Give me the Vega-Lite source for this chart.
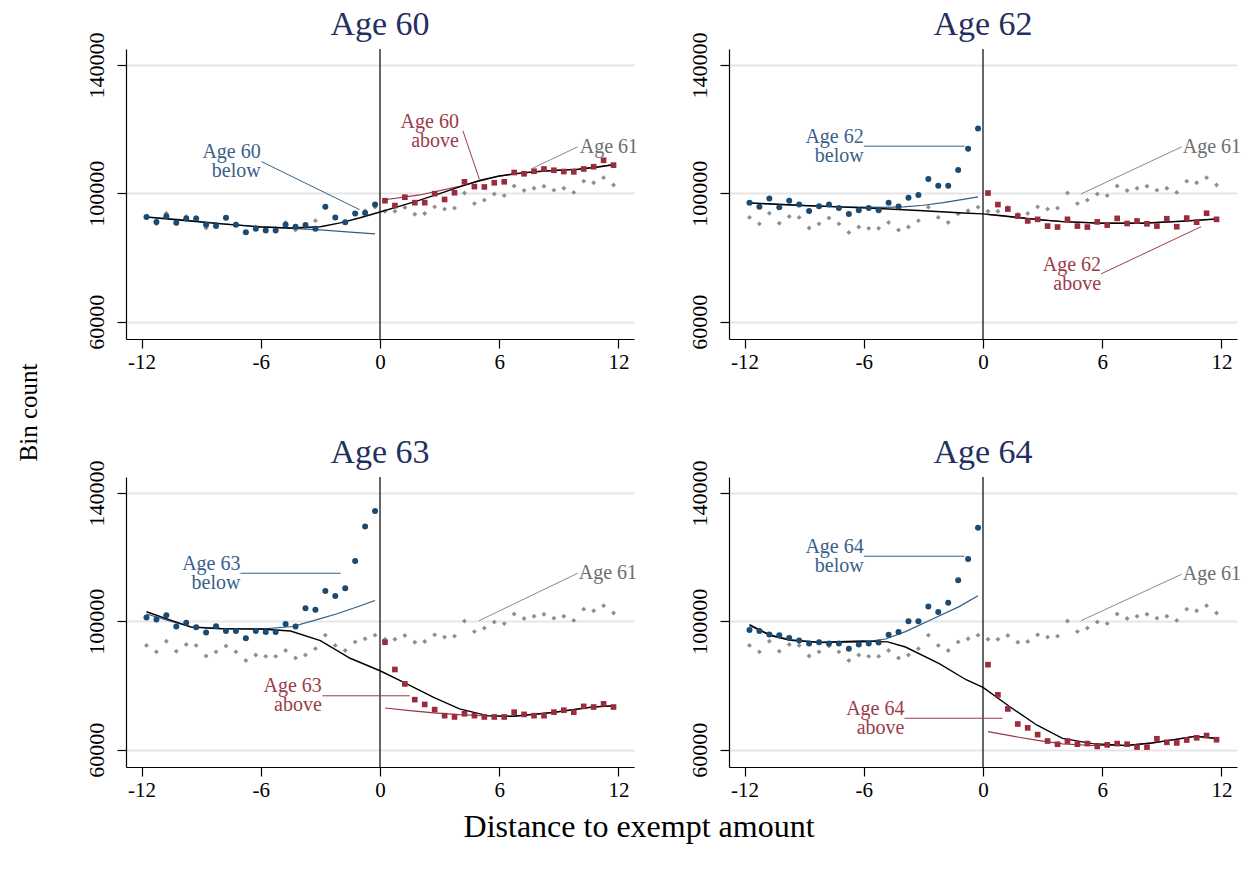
{
  "$schema": "https://vega.github.io/schema/vega-lite/v6.json",
  "padding": {"left": 17, "top": 8, "right": 5, "bottom": 5},
  "background": "white",
  "datasets": {
    "age61": [
      {"x": -11.75, "y": 92500}, {"x": -11.25, "y": 90500}, {"x": -10.75, "y": 93800}, {"x": -10.25, "y": 90700},
      {"x": -9.75, "y": 92800}, {"x": -9.25, "y": 92500}, {"x": -8.75, "y": 89200}, {"x": -8.25, "y": 90500},
      {"x": -7.75, "y": 92300}, {"x": -7.25, "y": 90500}, {"x": -6.75, "y": 87800}, {"x": -6.25, "y": 89500},
      {"x": -5.75, "y": 89100}, {"x": -5.25, "y": 89100}, {"x": -4.75, "y": 90900}, {"x": -4.25, "y": 88600},
      {"x": -3.75, "y": 89500}, {"x": -3.25, "y": 91500}, {"x": -2.75, "y": 95700}, {"x": -2.25, "y": 92500},
      {"x": -1.75, "y": 90900}, {"x": -1.25, "y": 93600}, {"x": -0.75, "y": 94600}, {"x": -0.25, "y": 95700},
      {"x": 0.25, "y": 94400}, {"x": 0.75, "y": 94400}, {"x": 1.25, "y": 95600}, {"x": 1.75, "y": 93500},
      {"x": 2.25, "y": 93700}, {"x": 2.75, "y": 95800}, {"x": 3.25, "y": 95100}, {"x": 3.75, "y": 95400},
      {"x": 4.25, "y": 100100}, {"x": 4.75, "y": 96800}, {"x": 5.25, "y": 97900}, {"x": 5.75, "y": 99800},
      {"x": 6.25, "y": 99300}, {"x": 6.75, "y": 102300}, {"x": 7.25, "y": 100900}, {"x": 7.75, "y": 101600},
      {"x": 8.25, "y": 102200}, {"x": 8.75, "y": 101000}, {"x": 9.25, "y": 101600}, {"x": 9.75, "y": 100300},
      {"x": 10.25, "y": 103800}, {"x": 10.75, "y": 103300}, {"x": 11.25, "y": 104900}, {"x": 11.75, "y": 102600}
    ],
    "zero": [{"x": 0, "y": 54600, "y2": 145000}],
    "pts": [
      {"p": 60, "s": "below", "x": -11.75, "y": 92600}, {"p": 60, "s": "below", "x": -11.25, "y": 91100}, {"p": 60, "s": "below", "x": -10.75, "y": 92900}, {"p": 60, "s": "below", "x": -10.25, "y": 90800},
      {"p": 60, "s": "below", "x": -9.75, "y": 92200}, {"p": 60, "s": "below", "x": -9.25, "y": 92200}, {"p": 60, "s": "below", "x": -8.75, "y": 90200}, {"p": 60, "s": "below", "x": -8.25, "y": 89800},
      {"p": 60, "s": "below", "x": -7.75, "y": 92400}, {"p": 60, "s": "below", "x": -7.25, "y": 90200}, {"p": 60, "s": "below", "x": -6.75, "y": 87900}, {"p": 60, "s": "below", "x": -6.25, "y": 89000},
      {"p": 60, "s": "below", "x": -5.75, "y": 88400}, {"p": 60, "s": "below", "x": -5.25, "y": 88400}, {"p": 60, "s": "below", "x": -4.75, "y": 90200}, {"p": 60, "s": "below", "x": -4.25, "y": 89600},
      {"p": 60, "s": "below", "x": -3.75, "y": 90100}, {"p": 60, "s": "below", "x": -3.25, "y": 89000}, {"p": 60, "s": "below", "x": -2.75, "y": 95800}, {"p": 60, "s": "below", "x": -2.25, "y": 92500},
      {"p": 60, "s": "below", "x": -1.75, "y": 91000}, {"p": 60, "s": "below", "x": -1.25, "y": 93700}, {"p": 60, "s": "below", "x": -0.75, "y": 93900}, {"p": 60, "s": "below", "x": -0.25, "y": 96500},
      {"p": 60, "s": "above", "x": 0.25, "y": 97700}, {"p": 60, "s": "above", "x": 0.75, "y": 96200}, {"p": 60, "s": "above", "x": 1.25, "y": 98800}, {"p": 60, "s": "above", "x": 1.75, "y": 97100},
      {"p": 60, "s": "above", "x": 2.25, "y": 97100}, {"p": 60, "s": "above", "x": 2.75, "y": 99900}, {"p": 60, "s": "above", "x": 3.25, "y": 98100}, {"p": 60, "s": "above", "x": 3.75, "y": 100200},
      {"p": 60, "s": "above", "x": 4.25, "y": 103600}, {"p": 60, "s": "above", "x": 4.75, "y": 102100}, {"p": 60, "s": "above", "x": 5.25, "y": 102000}, {"p": 60, "s": "above", "x": 5.75, "y": 103300},
      {"p": 60, "s": "above", "x": 6.25, "y": 103600}, {"p": 60, "s": "above", "x": 6.75, "y": 106500}, {"p": 60, "s": "above", "x": 7.25, "y": 106100}, {"p": 60, "s": "above", "x": 7.75, "y": 106900},
      {"p": 60, "s": "above", "x": 8.25, "y": 107600}, {"p": 60, "s": "above", "x": 8.75, "y": 107200}, {"p": 60, "s": "above", "x": 9.25, "y": 106800}, {"p": 60, "s": "above", "x": 9.75, "y": 106700},
      {"p": 60, "s": "above", "x": 10.25, "y": 107600}, {"p": 60, "s": "above", "x": 10.75, "y": 108300}, {"p": 60, "s": "above", "x": 11.25, "y": 110300}, {"p": 60, "s": "above", "x": 11.75, "y": 108800},

      {"p": 62, "s": "below", "x": -11.75, "y": 97100}, {"p": 62, "s": "below", "x": -11.25, "y": 95800}, {"p": 62, "s": "below", "x": -10.75, "y": 98400}, {"p": 62, "s": "below", "x": -10.25, "y": 95700},
      {"p": 62, "s": "below", "x": -9.75, "y": 97700}, {"p": 62, "s": "below", "x": -9.25, "y": 96500}, {"p": 62, "s": "below", "x": -8.75, "y": 94500}, {"p": 62, "s": "below", "x": -8.25, "y": 96000},
      {"p": 62, "s": "below", "x": -7.75, "y": 96500}, {"p": 62, "s": "below", "x": -7.25, "y": 95400}, {"p": 62, "s": "below", "x": -6.75, "y": 93600}, {"p": 62, "s": "below", "x": -6.25, "y": 94700},
      {"p": 62, "s": "below", "x": -5.75, "y": 95400}, {"p": 62, "s": "below", "x": -5.25, "y": 94700}, {"p": 62, "s": "below", "x": -4.75, "y": 97100}, {"p": 62, "s": "below", "x": -4.25, "y": 95900},
      {"p": 62, "s": "below", "x": -3.75, "y": 98600}, {"p": 62, "s": "below", "x": -3.25, "y": 99500}, {"p": 62, "s": "below", "x": -2.75, "y": 104500}, {"p": 62, "s": "below", "x": -2.25, "y": 102400},
      {"p": 62, "s": "below", "x": -1.75, "y": 102400}, {"p": 62, "s": "below", "x": -1.25, "y": 107300}, {"p": 62, "s": "below", "x": -0.75, "y": 113900}, {"p": 62, "s": "below", "x": -0.25, "y": 120200},
      {"p": 62, "s": "above", "x": 0.25, "y": 100100}, {"p": 62, "s": "above", "x": 0.75, "y": 96500}, {"p": 62, "s": "above", "x": 1.25, "y": 95100}, {"p": 62, "s": "above", "x": 1.75, "y": 92900},
      {"p": 62, "s": "above", "x": 2.25, "y": 91400}, {"p": 62, "s": "above", "x": 2.75, "y": 91900}, {"p": 62, "s": "above", "x": 3.25, "y": 89800}, {"p": 62, "s": "above", "x": 3.75, "y": 89500},
      {"p": 62, "s": "above", "x": 4.25, "y": 91900}, {"p": 62, "s": "above", "x": 4.75, "y": 89800}, {"p": 62, "s": "above", "x": 5.25, "y": 89500}, {"p": 62, "s": "above", "x": 5.75, "y": 91100},
      {"p": 62, "s": "above", "x": 6.25, "y": 90100}, {"p": 62, "s": "above", "x": 6.75, "y": 92200}, {"p": 62, "s": "above", "x": 7.25, "y": 90600}, {"p": 62, "s": "above", "x": 7.75, "y": 91400},
      {"p": 62, "s": "above", "x": 8.25, "y": 90500}, {"p": 62, "s": "above", "x": 8.75, "y": 89800}, {"p": 62, "s": "above", "x": 9.25, "y": 92100}, {"p": 62, "s": "above", "x": 9.75, "y": 89600},
      {"p": 62, "s": "above", "x": 10.25, "y": 92300}, {"p": 62, "s": "above", "x": 10.75, "y": 91000}, {"p": 62, "s": "above", "x": 11.25, "y": 93800}, {"p": 62, "s": "above", "x": 11.75, "y": 91900},

      {"p": 63, "s": "below", "x": -11.75, "y": 101200}, {"p": 63, "s": "below", "x": -11.25, "y": 100600}, {"p": 63, "s": "below", "x": -10.75, "y": 101900}, {"p": 63, "s": "below", "x": -10.25, "y": 98400},
      {"p": 63, "s": "below", "x": -9.75, "y": 99600}, {"p": 63, "s": "below", "x": -9.25, "y": 98200}, {"p": 63, "s": "below", "x": -8.75, "y": 96500}, {"p": 63, "s": "below", "x": -8.25, "y": 98500},
      {"p": 63, "s": "below", "x": -7.75, "y": 97000}, {"p": 63, "s": "below", "x": -7.25, "y": 97000}, {"p": 63, "s": "below", "x": -6.75, "y": 94700}, {"p": 63, "s": "below", "x": -6.25, "y": 97000},
      {"p": 63, "s": "below", "x": -5.75, "y": 96700}, {"p": 63, "s": "below", "x": -5.25, "y": 96700}, {"p": 63, "s": "below", "x": -4.75, "y": 99200}, {"p": 63, "s": "below", "x": -4.25, "y": 98400},
      {"p": 63, "s": "below", "x": -3.75, "y": 104100}, {"p": 63, "s": "below", "x": -3.25, "y": 103600}, {"p": 63, "s": "below", "x": -2.75, "y": 109500}, {"p": 63, "s": "below", "x": -2.25, "y": 107900},
      {"p": 63, "s": "below", "x": -1.75, "y": 110300}, {"p": 63, "s": "below", "x": -1.25, "y": 118800}, {"p": 63, "s": "below", "x": -0.75, "y": 129600}, {"p": 63, "s": "below", "x": -0.25, "y": 134400},
      {"p": 63, "s": "above", "x": 0.25, "y": 93500}, {"p": 63, "s": "above", "x": 0.75, "y": 85000}, {"p": 63, "s": "above", "x": 1.25, "y": 80500}, {"p": 63, "s": "above", "x": 1.75, "y": 75600},
      {"p": 63, "s": "above", "x": 2.25, "y": 74100}, {"p": 63, "s": "above", "x": 2.75, "y": 72500}, {"p": 63, "s": "above", "x": 3.25, "y": 70600}, {"p": 63, "s": "above", "x": 3.75, "y": 70200},
      {"p": 63, "s": "above", "x": 4.25, "y": 71200}, {"p": 63, "s": "above", "x": 4.75, "y": 70600}, {"p": 63, "s": "above", "x": 5.25, "y": 70200}, {"p": 63, "s": "above", "x": 5.75, "y": 70200},
      {"p": 63, "s": "above", "x": 6.25, "y": 70200}, {"p": 63, "s": "above", "x": 6.75, "y": 71700}, {"p": 63, "s": "above", "x": 7.25, "y": 71000}, {"p": 63, "s": "above", "x": 7.75, "y": 70600},
      {"p": 63, "s": "above", "x": 8.25, "y": 70600}, {"p": 63, "s": "above", "x": 8.75, "y": 71700}, {"p": 63, "s": "above", "x": 9.25, "y": 72300}, {"p": 63, "s": "above", "x": 9.75, "y": 71700},
      {"p": 63, "s": "above", "x": 10.25, "y": 73500}, {"p": 63, "s": "above", "x": 10.75, "y": 73300}, {"p": 63, "s": "above", "x": 11.25, "y": 74300}, {"p": 63, "s": "above", "x": 11.75, "y": 73300},

      {"p": 64, "s": "below", "x": -11.75, "y": 97300}, {"p": 64, "s": "below", "x": -11.25, "y": 97000}, {"p": 64, "s": "below", "x": -10.75, "y": 95900}, {"p": 64, "s": "below", "x": -10.25, "y": 95700},
      {"p": 64, "s": "below", "x": -9.75, "y": 94800}, {"p": 64, "s": "below", "x": -9.25, "y": 94000}, {"p": 64, "s": "below", "x": -8.75, "y": 93100}, {"p": 64, "s": "below", "x": -8.25, "y": 93500},
      {"p": 64, "s": "below", "x": -7.75, "y": 93100}, {"p": 64, "s": "below", "x": -7.25, "y": 93100}, {"p": 64, "s": "below", "x": -6.75, "y": 91500}, {"p": 64, "s": "below", "x": -6.25, "y": 92800},
      {"p": 64, "s": "below", "x": -5.75, "y": 93100}, {"p": 64, "s": "below", "x": -5.25, "y": 93400}, {"p": 64, "s": "below", "x": -4.75, "y": 95800}, {"p": 64, "s": "below", "x": -4.25, "y": 96700},
      {"p": 64, "s": "below", "x": -3.75, "y": 100000}, {"p": 64, "s": "below", "x": -3.25, "y": 100000}, {"p": 64, "s": "below", "x": -2.75, "y": 104600}, {"p": 64, "s": "below", "x": -2.25, "y": 102900},
      {"p": 64, "s": "below", "x": -1.75, "y": 105800}, {"p": 64, "s": "below", "x": -1.25, "y": 112800}, {"p": 64, "s": "below", "x": -0.75, "y": 119400}, {"p": 64, "s": "below", "x": -0.25, "y": 129200},
      {"p": 64, "s": "above", "x": 0.25, "y": 86500}, {"p": 64, "s": "above", "x": 0.75, "y": 77100}, {"p": 64, "s": "above", "x": 1.25, "y": 72700}, {"p": 64, "s": "above", "x": 1.75, "y": 68000},
      {"p": 64, "s": "above", "x": 2.25, "y": 66800}, {"p": 64, "s": "above", "x": 2.75, "y": 64700}, {"p": 64, "s": "above", "x": 3.25, "y": 62700}, {"p": 64, "s": "above", "x": 3.75, "y": 61700},
      {"p": 64, "s": "above", "x": 4.25, "y": 62700}, {"p": 64, "s": "above", "x": 4.75, "y": 61700}, {"p": 64, "s": "above", "x": 5.25, "y": 61900}, {"p": 64, "s": "above", "x": 5.75, "y": 61000},
      {"p": 64, "s": "above", "x": 6.25, "y": 61500}, {"p": 64, "s": "above", "x": 6.75, "y": 61900}, {"p": 64, "s": "above", "x": 7.25, "y": 61700}, {"p": 64, "s": "above", "x": 7.75, "y": 60800},
      {"p": 64, "s": "above", "x": 8.25, "y": 60800}, {"p": 64, "s": "above", "x": 8.75, "y": 63400}, {"p": 64, "s": "above", "x": 9.25, "y": 62300}, {"p": 64, "s": "above", "x": 9.75, "y": 62100},
      {"p": 64, "s": "above", "x": 10.25, "y": 63000}, {"p": 64, "s": "above", "x": 10.75, "y": 63700}, {"p": 64, "s": "above", "x": 11.25, "y": 64400}, {"p": 64, "s": "above", "x": 11.75, "y": 63100}
    ],
    "fits": [
      {"p": 60, "s": "fit", "x": -11.75, "y": 92600}, {"p": 60, "s": "fit", "x": -10, "y": 91600}, {"p": 60, "s": "fit", "x": -8, "y": 90500}, {"p": 60, "s": "fit", "x": -6, "y": 89500},
      {"p": 60, "s": "fit", "x": -4.5, "y": 89200}, {"p": 60, "s": "fit", "x": -3, "y": 89600}, {"p": 60, "s": "fit", "x": -2, "y": 90800}, {"p": 60, "s": "fit", "x": -1, "y": 92400},
      {"p": 60, "s": "fit", "x": 0, "y": 94200}, {"p": 60, "s": "fit", "x": 1, "y": 96000}, {"p": 60, "s": "fit", "x": 2, "y": 97900}, {"p": 60, "s": "fit", "x": 3, "y": 99900},
      {"p": 60, "s": "fit", "x": 4, "y": 102000}, {"p": 60, "s": "fit", "x": 5, "y": 104000}, {"p": 60, "s": "fit", "x": 6, "y": 105400}, {"p": 60, "s": "fit", "x": 7, "y": 106300},
      {"p": 60, "s": "fit", "x": 8, "y": 106800}, {"p": 60, "s": "fit", "x": 9, "y": 107200}, {"p": 60, "s": "fit", "x": 10, "y": 107500}, {"p": 60, "s": "fit", "x": 11, "y": 108200}, {"p": 60, "s": "fit", "x": 11.75, "y": 108900},
      {"p": 60, "s": "below", "x": -11.75, "y": 92700}, {"p": 60, "s": "below", "x": -10, "y": 91800}, {"p": 60, "s": "below", "x": -8, "y": 90600}, {"p": 60, "s": "below", "x": -6, "y": 89600},
      {"p": 60, "s": "below", "x": -4.5, "y": 89100}, {"p": 60, "s": "below", "x": -3, "y": 88600}, {"p": 60, "s": "below", "x": -1.5, "y": 87900}, {"p": 60, "s": "below", "x": -0.25, "y": 87400},
      {"p": 60, "s": "above", "x": 0.25, "y": 98000}, {"p": 60, "s": "above", "x": 2, "y": 99500}, {"p": 60, "s": "above", "x": 4, "y": 102200}, {"p": 60, "s": "above", "x": 6, "y": 105400},
      {"p": 60, "s": "above", "x": 8, "y": 106900}, {"p": 60, "s": "above", "x": 10, "y": 107600}, {"p": 60, "s": "above", "x": 11.75, "y": 109000},

      {"p": 62, "s": "fit", "x": -11.75, "y": 97000}, {"p": 62, "s": "fit", "x": -9, "y": 96200}, {"p": 62, "s": "fit", "x": -7, "y": 95700}, {"p": 62, "s": "fit", "x": -5, "y": 95200},
      {"p": 62, "s": "fit", "x": -3, "y": 94600}, {"p": 62, "s": "fit", "x": -1, "y": 93900}, {"p": 62, "s": "fit", "x": 0, "y": 93600}, {"p": 62, "s": "fit", "x": 1, "y": 93000},
      {"p": 62, "s": "fit", "x": 2, "y": 92300}, {"p": 62, "s": "fit", "x": 3, "y": 91700}, {"p": 62, "s": "fit", "x": 4, "y": 91200}, {"p": 62, "s": "fit", "x": 6, "y": 90700},
      {"p": 62, "s": "fit", "x": 8, "y": 90700}, {"p": 62, "s": "fit", "x": 10, "y": 91300}, {"p": 62, "s": "fit", "x": 11.75, "y": 92000},
      {"p": 62, "s": "below", "x": -11.75, "y": 97000}, {"p": 62, "s": "below", "x": -9, "y": 96200}, {"p": 62, "s": "below", "x": -7, "y": 95800}, {"p": 62, "s": "below", "x": -5, "y": 95600},
      {"p": 62, "s": "below", "x": -4, "y": 95800}, {"p": 62, "s": "below", "x": -3, "y": 96300}, {"p": 62, "s": "below", "x": -2, "y": 97100}, {"p": 62, "s": "below", "x": -1, "y": 98100}, {"p": 62, "s": "below", "x": -0.25, "y": 98900},
      {"p": 62, "s": "above", "x": 0.25, "y": 93400}, {"p": 62, "s": "above", "x": 1, "y": 92900}, {"p": 62, "s": "above", "x": 2, "y": 92300}, {"p": 62, "s": "above", "x": 3, "y": 91700},
      {"p": 62, "s": "above", "x": 4, "y": 91200}, {"p": 62, "s": "above", "x": 6, "y": 90700}, {"p": 62, "s": "above", "x": 8, "y": 90700}, {"p": 62, "s": "above", "x": 10, "y": 91300}, {"p": 62, "s": "above", "x": 11.75, "y": 92000},

      {"p": 63, "s": "fit", "x": -11.75, "y": 103000}, {"p": 63, "s": "fit", "x": -10.5, "y": 100300}, {"p": 63, "s": "fit", "x": -9.5, "y": 98200}, {"p": 63, "s": "fit", "x": -8, "y": 97700},
      {"p": 63, "s": "fit", "x": -6, "y": 97600}, {"p": 63, "s": "fit", "x": -4.5, "y": 97000}, {"p": 63, "s": "fit", "x": -3, "y": 94000}, {"p": 63, "s": "fit", "x": -1.5, "y": 88500},
      {"p": 63, "s": "fit", "x": 0, "y": 84600}, {"p": 63, "s": "fit", "x": 1.2, "y": 81000}, {"p": 63, "s": "fit", "x": 2.7, "y": 76300}, {"p": 63, "s": "fit", "x": 4, "y": 72700},
      {"p": 63, "s": "fit", "x": 5.4, "y": 70600}, {"p": 63, "s": "fit", "x": 6.7, "y": 70400}, {"p": 63, "s": "fit", "x": 8.7, "y": 71600}, {"p": 63, "s": "fit", "x": 10.7, "y": 73300}, {"p": 63, "s": "fit", "x": 11.75, "y": 73700},
      {"p": 63, "s": "below", "x": -11.75, "y": 102300}, {"p": 63, "s": "below", "x": -10.5, "y": 100000}, {"p": 63, "s": "below", "x": -9.5, "y": 98300}, {"p": 63, "s": "below", "x": -8, "y": 97800},
      {"p": 63, "s": "below", "x": -6, "y": 97600}, {"p": 63, "s": "below", "x": -4.4, "y": 98400}, {"p": 63, "s": "below", "x": -3.3, "y": 100300}, {"p": 63, "s": "below", "x": -2.2, "y": 102300},
      {"p": 63, "s": "below", "x": -1.2, "y": 104400}, {"p": 63, "s": "below", "x": -0.25, "y": 106500},
      {"p": 63, "s": "above", "x": 0.25, "y": 73000}, {"p": 63, "s": "above", "x": 1.5, "y": 72200}, {"p": 63, "s": "above", "x": 2.7, "y": 71500}, {"p": 63, "s": "above", "x": 4, "y": 70900},
      {"p": 63, "s": "above", "x": 5.4, "y": 70500}, {"p": 63, "s": "above", "x": 6.7, "y": 70400}, {"p": 63, "s": "above", "x": 8.7, "y": 71600}, {"p": 63, "s": "above", "x": 10.7, "y": 73300}, {"p": 63, "s": "above", "x": 11.75, "y": 73700},

      {"p": 64, "s": "fit", "x": -11.75, "y": 99000}, {"p": 64, "s": "fit", "x": -10.7, "y": 95600}, {"p": 64, "s": "fit", "x": -9.7, "y": 94100}, {"p": 64, "s": "fit", "x": -8.2, "y": 93500},
      {"p": 64, "s": "fit", "x": -6, "y": 93900}, {"p": 64, "s": "fit", "x": -4.8, "y": 93600}, {"p": 64, "s": "fit", "x": -3.9, "y": 92000}, {"p": 64, "s": "fit", "x": -2.2, "y": 86800},
      {"p": 64, "s": "fit", "x": -0.85, "y": 81800}, {"p": 64, "s": "fit", "x": 0, "y": 79400}, {"p": 64, "s": "fit", "x": 1.3, "y": 73600}, {"p": 64, "s": "fit", "x": 2.7, "y": 67700},
      {"p": 64, "s": "fit", "x": 4, "y": 63500}, {"p": 64, "s": "fit", "x": 5.5, "y": 61900}, {"p": 64, "s": "fit", "x": 7.2, "y": 61300}, {"p": 64, "s": "fit", "x": 8.5, "y": 62100},
      {"p": 64, "s": "fit", "x": 9.7, "y": 63200}, {"p": 64, "s": "fit", "x": 10.7, "y": 64200}, {"p": 64, "s": "fit", "x": 11.75, "y": 63500},
      {"p": 64, "s": "below", "x": -11.75, "y": 98600}, {"p": 64, "s": "below", "x": -10.7, "y": 95800}, {"p": 64, "s": "below", "x": -9.7, "y": 94300}, {"p": 64, "s": "below", "x": -8.2, "y": 93400},
      {"p": 64, "s": "below", "x": -6, "y": 93500}, {"p": 64, "s": "below", "x": -4.9, "y": 94500}, {"p": 64, "s": "below", "x": -3.9, "y": 96800}, {"p": 64, "s": "below", "x": -2.35, "y": 101300},
      {"p": 64, "s": "below", "x": -1.2, "y": 104600}, {"p": 64, "s": "below", "x": -0.25, "y": 108000},
      {"p": 64, "s": "above", "x": 0.25, "y": 65600}, {"p": 64, "s": "above", "x": 1.5, "y": 64200}, {"p": 64, "s": "above", "x": 2.75, "y": 62900}, {"p": 64, "s": "above", "x": 4, "y": 61800},
      {"p": 64, "s": "above", "x": 5.5, "y": 61300}, {"p": 64, "s": "above", "x": 7.2, "y": 61300}, {"p": 64, "s": "above", "x": 8.5, "y": 62100}, {"p": 64, "s": "above", "x": 9.7, "y": 63200},
      {"p": 64, "s": "above", "x": 10.7, "y": 64200}, {"p": 64, "s": "above", "x": 11.75, "y": 63500}
    ],
    "ann": [
      {"p": 60, "s": "below", "x": -6.0, "y": 109800, "t": "Age 60\nbelow"},
      {"p": 60, "s": "above", "x": 3.97, "y": 119400, "t": "Age 60\nabove"},
      {"p": 60, "s": "age61", "x": 10.0, "y": 114500, "t": "Age 61"},
      {"p": 62, "s": "below", "x": -6.0, "y": 114600, "t": "Age 62\nbelow"},
      {"p": 62, "s": "above", "x": 5.94, "y": 74700, "t": "Age 62\nabove"},
      {"p": 62, "s": "age61", "x": 10.0, "y": 114500, "t": "Age 61"},
      {"p": 63, "s": "below", "x": -7.02, "y": 115000, "t": "Age 63\nbelow"},
      {"p": 63, "s": "above", "x": -2.93, "y": 76800, "t": "Age 63\nabove"},
      {"p": 63, "s": "age61", "x": 9.95, "y": 115000, "t": "Age 61"},
      {"p": 64, "s": "below", "x": -6.0, "y": 120300, "t": "Age 64\nbelow"},
      {"p": 64, "s": "above", "x": -3.95, "y": 69800, "t": "Age 64\nabove"},
      {"p": 64, "s": "age61", "x": 10.0, "y": 114700, "t": "Age 61"}
    ],
    "lead": [
      {"p": 60, "s": "below", "x": -5.96, "y": 109900, "x2": -1.02, "y2": 94900},
      {"p": 60, "s": "above", "x": 4.17, "y": 119500, "x2": 5.0, "y2": 104400},
      {"p": 60, "s": "age61", "x": 9.95, "y": 114500, "x2": 7.6, "y2": 107600},
      {"p": 62, "s": "below", "x": -6.0, "y": 114700, "x2": -0.93, "y2": 114700},
      {"p": 62, "s": "above", "x": 5.94, "y": 74900, "x2": 10.97, "y2": 89600},
      {"p": 62, "s": "age61", "x": 10.0, "y": 114500, "x2": 4.93, "y2": 99800},
      {"p": 63, "s": "below", "x": -7.02, "y": 115000, "x2": -1.98, "y2": 115000},
      {"p": 63, "s": "above", "x": -2.9, "y": 76800, "x2": 1.5, "y2": 76800},
      {"p": 63, "s": "age61", "x": 9.95, "y": 115000, "x2": 4.98, "y2": 100200},
      {"p": 64, "s": "below", "x": -6.0, "y": 120300, "x2": -0.93, "y2": 120300},
      {"p": 64, "s": "above", "x": -3.95, "y": 69800, "x2": 0.98, "y2": 69800},
      {"p": 64, "s": "age61", "x": 10.0, "y": 114700, "x2": 4.93, "y2": 100200}
    ]
  },
  "title": {"text": "Bin count", "orient": "left", "fontSize": 25, "color": "black", "offset": 43, "anchor": "middle", "dx": 13},
  "vconcat": [
    {
      "title": {"text": "Distance to exempt amount", "orient": "bottom", "fontSize": 32, "color": "black", "offset": 12, "anchor": "middle", "dx": -24},
      "columns": 2,
      "bounds": "flush",
      "spacing": {"column": 95, "row": 138},
      "concat": [
        {
          "title": {"text": "Age 60", "frame": "group"},
          "width": 508, "height": 290,
          "encoding": {
            "x": {"field": "x", "type": "quantitative", "scale": {"domain": [-12.78, 12.78], "nice": false, "zero": false}, "axis": {"values": [-12, -6, 0, 6, 12], "title": null, "grid": false, "labelFontSize": 21, "labelPadding": 3, "tickSize": 9, "labelExpr": "'' + datum.value"}},
            "y": {"field": "y", "type": "quantitative", "scale": {"domain": [54600, 145000], "nice": false, "zero": false}, "axis": {"values": [60000, 100000, 140000], "title": null, "grid": true, "gridColor": "#e6e6e6", "gridWidth": 2, "labelAngle": -90, "labelFontSize": 22, "labelPadding": 9, "tickSize": 9, "labelExpr": "'' + datum.value"}}
          },
          "layer": [
            {"data": {"name": "age61"}, "mark": {"type": "point", "shape": "diamond", "filled": true, "size": 24, "color": "#8f8f8f", "opacity": 1}},
            {"data": {"name": "zero"}, "mark": {"type": "rule", "color": "black", "strokeWidth": 1.2}, "encoding": {"y2": {"field": "y2"}}},
            {"data": {"name": "fits"}, "transform": [{"filter": "datum.p == 60 && datum.s == 'below'"}], "mark": {"type": "line", "color": "#2f5d8a", "strokeWidth": 1.2}},
            {"data": {"name": "fits"}, "transform": [{"filter": "datum.p == 60 && datum.s == 'above'"}], "mark": {"type": "line", "color": "#9c3546", "strokeWidth": 1.2}},
            {"data": {"name": "fits"}, "transform": [{"filter": "datum.p == 60 && datum.s == 'fit'"}], "mark": {"type": "line", "color": "black", "strokeWidth": 1.4}},
            {"data": {"name": "pts"}, "transform": [{"filter": "datum.p == 60 && datum.s == 'below'"}], "mark": {"type": "circle", "size": 36, "color": "#1b4a72", "opacity": 1}},
            {"data": {"name": "pts"}, "transform": [{"filter": "datum.p == 60 && datum.s == 'above'"}], "mark": {"type": "square", "size": 32, "color": "#9a2c3c", "opacity": 1}},
            {"data": {"name": "lead"}, "transform": [{"filter": "datum.p == 60"}], "mark": {"type": "rule", "strokeWidth": 1}, "encoding": {"x2": {"field": "x2"}, "y2": {"field": "y2"}, "color": {"field": "s", "type": "nominal", "scale": {"domain": ["below", "above", "age61"], "range": ["#3a6089", "#9c3b4b", "#8a8a8a"]}, "legend": null}}},
            {"data": {"name": "ann"}, "transform": [{"filter": "datum.p == 60 && datum.s != 'age61'"}], "mark": {"type": "text", "align": "right", "baseline": "middle", "dy": -9.5, "fontSize": 20, "lineHeight": 19, "lineBreak": "\n", "font": "Liberation Serif"}, "encoding": {"text": {"field": "t"}, "color": {"field": "s", "type": "nominal", "legend": null}}},
            {"data": {"name": "ann"}, "transform": [{"filter": "datum.p == 60 && datum.s == 'age61'"}], "mark": {"type": "text", "align": "left", "baseline": "middle", "fontSize": 20, "dx": 1, "font": "Liberation Serif", "color": "#6e6e6e"}, "encoding": {"text": {"field": "t"}}}
          ]
        },
        {
          "title": {"text": "Age 62", "frame": "group"},
          "width": 508, "height": 290,
          "encoding": {
            "x": {"field": "x", "type": "quantitative", "scale": {"domain": [-12.78, 12.78], "nice": false, "zero": false}, "axis": {"values": [-12, -6, 0, 6, 12], "title": null, "grid": false, "labelFontSize": 21, "labelPadding": 3, "tickSize": 9, "labelExpr": "'' + datum.value"}},
            "y": {"field": "y", "type": "quantitative", "scale": {"domain": [54600, 145000], "nice": false, "zero": false}, "axis": {"values": [60000, 100000, 140000], "title": null, "grid": true, "gridColor": "#e6e6e6", "gridWidth": 2, "labelAngle": -90, "labelFontSize": 22, "labelPadding": 9, "tickSize": 9, "labelExpr": "'' + datum.value"}}
          },
          "layer": [
            {"data": {"name": "age61"}, "mark": {"type": "point", "shape": "diamond", "filled": true, "size": 24, "color": "#8f8f8f", "opacity": 1}},
            {"data": {"name": "zero"}, "mark": {"type": "rule", "color": "black", "strokeWidth": 1.2}, "encoding": {"y2": {"field": "y2"}}},
            {"data": {"name": "fits"}, "transform": [{"filter": "datum.p == 62 && datum.s == 'below'"}], "mark": {"type": "line", "color": "#2f5d8a", "strokeWidth": 1.2}},
            {"data": {"name": "fits"}, "transform": [{"filter": "datum.p == 62 && datum.s == 'above'"}], "mark": {"type": "line", "color": "#9c3546", "strokeWidth": 1.2}},
            {"data": {"name": "fits"}, "transform": [{"filter": "datum.p == 62 && datum.s == 'fit'"}], "mark": {"type": "line", "color": "black", "strokeWidth": 1.4}},
            {"data": {"name": "pts"}, "transform": [{"filter": "datum.p == 62 && datum.s == 'below'"}], "mark": {"type": "circle", "size": 36, "color": "#1b4a72", "opacity": 1}},
            {"data": {"name": "pts"}, "transform": [{"filter": "datum.p == 62 && datum.s == 'above'"}], "mark": {"type": "square", "size": 32, "color": "#9a2c3c", "opacity": 1}},
            {"data": {"name": "lead"}, "transform": [{"filter": "datum.p == 62"}], "mark": {"type": "rule", "strokeWidth": 1}, "encoding": {"x2": {"field": "x2"}, "y2": {"field": "y2"}, "color": {"field": "s", "type": "nominal", "scale": {"domain": ["below", "above", "age61"], "range": ["#3a6089", "#9c3b4b", "#8a8a8a"]}, "legend": null}}},
            {"data": {"name": "ann"}, "transform": [{"filter": "datum.p == 62 && datum.s != 'age61'"}], "mark": {"type": "text", "align": "right", "baseline": "middle", "dy": -9.5, "fontSize": 20, "lineHeight": 19, "lineBreak": "\n", "font": "Liberation Serif"}, "encoding": {"text": {"field": "t"}, "color": {"field": "s", "type": "nominal", "legend": null}}},
            {"data": {"name": "ann"}, "transform": [{"filter": "datum.p == 62 && datum.s == 'age61'"}], "mark": {"type": "text", "align": "left", "baseline": "middle", "fontSize": 20, "dx": 1, "font": "Liberation Serif", "color": "#6e6e6e"}, "encoding": {"text": {"field": "t"}}}
          ]
        },
        {
          "title": {"text": "Age 63", "frame": "group"},
          "width": 508, "height": 290,
          "encoding": {
            "x": {"field": "x", "type": "quantitative", "scale": {"domain": [-12.78, 12.78], "nice": false, "zero": false}, "axis": {"values": [-12, -6, 0, 6, 12], "title": null, "grid": false, "labelFontSize": 21, "labelPadding": 3, "tickSize": 9, "labelExpr": "'' + datum.value"}},
            "y": {"field": "y", "type": "quantitative", "scale": {"domain": [54600, 145000], "nice": false, "zero": false}, "axis": {"values": [60000, 100000, 140000], "title": null, "grid": true, "gridColor": "#e6e6e6", "gridWidth": 2, "labelAngle": -90, "labelFontSize": 22, "labelPadding": 9, "tickSize": 9, "labelExpr": "'' + datum.value"}}
          },
          "layer": [
            {"data": {"name": "age61"}, "mark": {"type": "point", "shape": "diamond", "filled": true, "size": 24, "color": "#8f8f8f", "opacity": 1}},
            {"data": {"name": "zero"}, "mark": {"type": "rule", "color": "black", "strokeWidth": 1.2}, "encoding": {"y2": {"field": "y2"}}},
            {"data": {"name": "fits"}, "transform": [{"filter": "datum.p == 63 && datum.s == 'below'"}], "mark": {"type": "line", "color": "#2f5d8a", "strokeWidth": 1.2}},
            {"data": {"name": "fits"}, "transform": [{"filter": "datum.p == 63 && datum.s == 'above'"}], "mark": {"type": "line", "color": "#9c3546", "strokeWidth": 1.2}},
            {"data": {"name": "fits"}, "transform": [{"filter": "datum.p == 63 && datum.s == 'fit'"}], "mark": {"type": "line", "color": "black", "strokeWidth": 1.4}},
            {"data": {"name": "pts"}, "transform": [{"filter": "datum.p == 63 && datum.s == 'below'"}], "mark": {"type": "circle", "size": 36, "color": "#1b4a72", "opacity": 1}},
            {"data": {"name": "pts"}, "transform": [{"filter": "datum.p == 63 && datum.s == 'above'"}], "mark": {"type": "square", "size": 32, "color": "#9a2c3c", "opacity": 1}},
            {"data": {"name": "lead"}, "transform": [{"filter": "datum.p == 63"}], "mark": {"type": "rule", "strokeWidth": 1}, "encoding": {"x2": {"field": "x2"}, "y2": {"field": "y2"}, "color": {"field": "s", "type": "nominal", "scale": {"domain": ["below", "above", "age61"], "range": ["#3a6089", "#9c3b4b", "#8a8a8a"]}, "legend": null}}},
            {"data": {"name": "ann"}, "transform": [{"filter": "datum.p == 63 && datum.s != 'age61'"}], "mark": {"type": "text", "align": "right", "baseline": "middle", "dy": -9.5, "fontSize": 20, "lineHeight": 19, "lineBreak": "\n", "font": "Liberation Serif"}, "encoding": {"text": {"field": "t"}, "color": {"field": "s", "type": "nominal", "legend": null}}},
            {"data": {"name": "ann"}, "transform": [{"filter": "datum.p == 63 && datum.s == 'age61'"}], "mark": {"type": "text", "align": "left", "baseline": "middle", "fontSize": 20, "dx": 1, "font": "Liberation Serif", "color": "#6e6e6e"}, "encoding": {"text": {"field": "t"}}}
          ]
        },
        {
          "title": {"text": "Age 64", "frame": "group"},
          "width": 508, "height": 290,
          "encoding": {
            "x": {"field": "x", "type": "quantitative", "scale": {"domain": [-12.78, 12.78], "nice": false, "zero": false}, "axis": {"values": [-12, -6, 0, 6, 12], "title": null, "grid": false, "labelFontSize": 21, "labelPadding": 3, "tickSize": 9, "labelExpr": "'' + datum.value"}},
            "y": {"field": "y", "type": "quantitative", "scale": {"domain": [54600, 145000], "nice": false, "zero": false}, "axis": {"values": [60000, 100000, 140000], "title": null, "grid": true, "gridColor": "#e6e6e6", "gridWidth": 2, "labelAngle": -90, "labelFontSize": 22, "labelPadding": 9, "tickSize": 9, "labelExpr": "'' + datum.value"}}
          },
          "layer": [
            {"data": {"name": "age61"}, "mark": {"type": "point", "shape": "diamond", "filled": true, "size": 24, "color": "#8f8f8f", "opacity": 1}},
            {"data": {"name": "zero"}, "mark": {"type": "rule", "color": "black", "strokeWidth": 1.2}, "encoding": {"y2": {"field": "y2"}}},
            {"data": {"name": "fits"}, "transform": [{"filter": "datum.p == 64 && datum.s == 'below'"}], "mark": {"type": "line", "color": "#2f5d8a", "strokeWidth": 1.2}},
            {"data": {"name": "fits"}, "transform": [{"filter": "datum.p == 64 && datum.s == 'above'"}], "mark": {"type": "line", "color": "#9c3546", "strokeWidth": 1.2}},
            {"data": {"name": "fits"}, "transform": [{"filter": "datum.p == 64 && datum.s == 'fit'"}], "mark": {"type": "line", "color": "black", "strokeWidth": 1.4}},
            {"data": {"name": "pts"}, "transform": [{"filter": "datum.p == 64 && datum.s == 'below'"}], "mark": {"type": "circle", "size": 36, "color": "#1b4a72", "opacity": 1}},
            {"data": {"name": "pts"}, "transform": [{"filter": "datum.p == 64 && datum.s == 'above'"}], "mark": {"type": "square", "size": 32, "color": "#9a2c3c", "opacity": 1}},
            {"data": {"name": "lead"}, "transform": [{"filter": "datum.p == 64"}], "mark": {"type": "rule", "strokeWidth": 1}, "encoding": {"x2": {"field": "x2"}, "y2": {"field": "y2"}, "color": {"field": "s", "type": "nominal", "scale": {"domain": ["below", "above", "age61"], "range": ["#3a6089", "#9c3b4b", "#8a8a8a"]}, "legend": null}}},
            {"data": {"name": "ann"}, "transform": [{"filter": "datum.p == 64 && datum.s != 'age61'"}], "mark": {"type": "text", "align": "right", "baseline": "middle", "dy": -9.5, "fontSize": 20, "lineHeight": 19, "lineBreak": "\n", "font": "Liberation Serif"}, "encoding": {"text": {"field": "t"}, "color": {"field": "s", "type": "nominal", "legend": null}}},
            {"data": {"name": "ann"}, "transform": [{"filter": "datum.p == 64 && datum.s == 'age61'"}], "mark": {"type": "text", "align": "left", "baseline": "middle", "fontSize": 20, "dx": 1, "font": "Liberation Serif", "color": "#6e6e6e"}, "encoding": {"text": {"field": "t"}}}
          ]
        }
      ]
    }
  ],
  "config": {
    "view": {"stroke": null},
    "font": "Liberation Serif",
    "axis": {"domainColor": "black", "tickColor": "black", "labelColor": "black", "labelFont": "Liberation Serif", "domainWidth": 1.2, "tickWidth": 1.2},
    "title": {"font": "Liberation Serif", "fontWeight": "normal", "fontSize": 34, "color": "#23305f", "anchor": "middle", "offset": -10}
  }
}
